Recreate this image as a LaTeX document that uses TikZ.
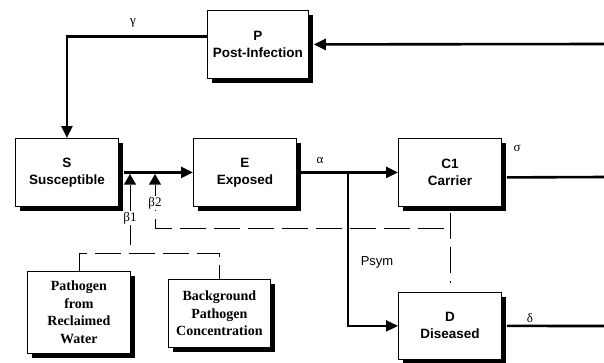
\documentclass[tikz,border=0pt]{standalone}
\usepackage{fontspec}
\setmainfont{Liberation Sans}
\newfontfamily\serifb{Liberation Serif}
\usetikzlibrary{arrows.meta,shadows,shapes.geometric}
\tikzset{
  box/.style={draw=black, line width=0.8pt, fill=white, inner sep=0pt, anchor=north west,
    align=center, font=\fontsize{13.5}{17}\selectfont\bfseries,
    drop shadow={shadow xshift=5pt, shadow yshift=-5pt, opacity=1, fill=black}},
  srcbox/.style={box, font=\serifb\fontsize{14}{17.5}\selectfont\bfseries},
  flow/.style={line width=2.6pt, -{Triangle[length=12pt,width=11pt]}},
  flowplain/.style={line width=2.6pt},
  dsh/.style={line width=0.8pt, dash pattern=on 26pt off 8pt},
  greek/.style={font=\serifb\fontsize{13}{15}\selectfont, inner sep=1pt},
  lbl/.style={font=\fontsize{13}{15}\selectfont, inner sep=1pt},
  trimark/.style={regular polygon, regular polygon sides=3, fill=black, inner sep=0pt, minimum size=14pt}
}
\begin{document}
\begin{tikzpicture}[x=1pt,y=-1pt]
\useasboundingbox (0,0) rectangle (604,362);
% boxes
\node[box, minimum width=101pt, minimum height=68pt] (P) at (207,10) {P\\Post-Infection};
\node[box, minimum width=103pt, minimum height=68pt] (S) at (15,138) {S\\Susceptible};
\node[box, minimum width=103pt, minimum height=68pt] (E) at (193,138) {E\\Exposed};
\node[box, minimum width=103pt, minimum height=68pt] (C1) at (398,138) {C1\\Carrier};
\node[box, minimum width=103pt, minimum height=67pt] (D) at (398,292) {D\\Diseased};
\node[srcbox, minimum width=103pt, minimum height=82pt] (PRW) at (27,271) {Pathogen\\from\\Reclaimed\\Water};
\node[srcbox, minimum width=102pt, minimum height=68pt] (BPC) at (168,279) {Background\\Pathogen\\Concentration};
% free ends
\coordinate (inP) at (604,44);
\coordinate (outC) at (604,177);
\coordinate (outD) at (604,326);
\coordinate (br) at (348,172);
\coordinate (j1) at (130,253);
\coordinate (j2) at (449.5,228);
% triangles
\node[trimark] (b1) at (130,181) {};
\node[trimark] (b2) at (155,181) {};
% main flows
\draw[flow] (inP) -- ([xshift=5pt]P.east);
\draw[flow] ([yshift=8pt]P.west) -| (S.north);
\node[greek] (g) at (133,23) {γ};
\draw[flow] ([xshift=5pt]S.east) -- (E.west);
\draw[flow] (E.east) -- (C1.west);
\node[greek] (a) at (320,160) {α};
\draw[line width=2pt, -{Triangle[length=12pt,width=11pt]}] (br) |- (D.west);
\draw[flowplain] ([xshift=5pt,yshift=-5pt]C1.east) -- (outC);
\node[greek] (s) at (517,148) {σ};
\draw[flowplain] ([xshift=5pt]D.east) -- (outD);
\node[greek] (d) at (530,318) {δ};
\node[lbl] (psym) at (377,262) {Psym};
% dashed influences
\draw[dsh] (b1.south) -- (j1);
\draw[dsh] (PRW.north) -- (PRW.north |- j1) -- (BPC.north |- j1) -- (BPC.north);
\draw[dsh] (b2.south) |- (j2);
\draw[dsh] ([yshift=-6pt]C1.south) -- ([yshift=9pt]D.north);
\node[greek, fill=white] (beta1) at (130,218) {β1};
\node[greek, fill=white] (beta2) at (155,203) {β2};
\end{tikzpicture}
\end{document}
